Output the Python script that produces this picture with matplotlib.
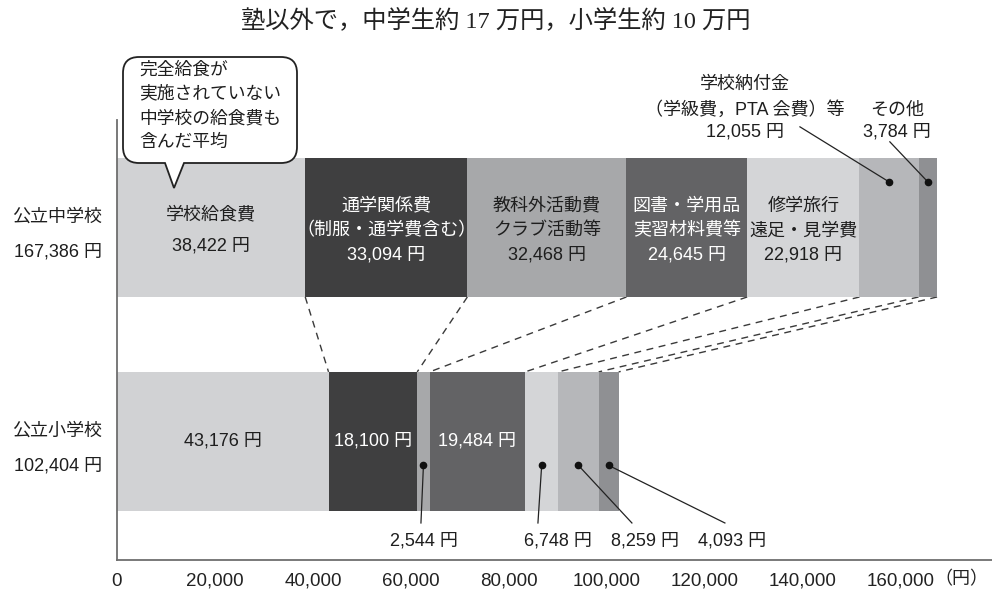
import matplotlib
matplotlib.use('Agg')
import matplotlib.pyplot as plt
from matplotlib.path import Path
from matplotlib.patches import PathPatch
import numpy as np

plt.rcParams['font.family'] = ['Liberation Sans', 'Noto Sans CJK JP']

# 学習費（塾以外）の内訳
schools = ['公立中学校', '公立小学校']
names = [['学校給食費'],
         ['通学関係費', '（制服・通学費含む）'],
         ['教科外活動費', 'クラブ活動等'],
         ['図書・学用品', '実習材料費等'],
         ['修学旅行', '遠足・見学費'],
         ['学校納付金', '（学級費，PTA 会費）等'],
         ['その他']]
middle_values = [38422, 33094, 32468, 24645, 22918, 12055, 3784]
elem_values = [43176, 18100, 2544, 19484, 6748, 8259, 4093]
colors = ['#d1d2d4', '#3f3f40', '#a7a8aa', '#636365',
          '#d4d5d7', '#b6b7ba', '#8f9093']
white_text = [1, 3]

ticks = [0, 20000, 40000, 60000, 80000, 100000, 120000, 140000, 160000]
title = '塾以外で，中学生約 17 万円，小学生約 10 万円'
bubble_lines = ['完全給食が', '実施されていない', '中学校の給食費も', '含んだ平均']

H = 0.65
dark = '#1e1e1e'

fig = plt.figure(figsize=(9.92, 5.92), dpi=100)
ax = fig.add_axes([117 / 992, 32 / 592, 875 / 992, 440 / 592])

rows = [middle_values, elem_values]
lefts = []
for r, vals in enumerate(rows):
    left = np.concatenate([[0], np.cumsum(vals)[:-1]])
    lefts.append(left)
    ax.barh(r, vals, left=left, height=H, color=colors, linewidth=0, zorder=2)

ax.set_xlim(0, 178600)
ax.set_ylim(1.554, -0.502)
ax.set_xticks(ticks, [f'{t:,}' for t in ticks])
ax.set_yticks([])
ax.tick_params(axis='x', length=0, pad=9, labelsize=13.5, labelcolor='#222')
for s in ['top', 'right']:
    ax.spines[s].set_visible(False)
for s in ['left', 'bottom']:
    ax.spines[s].set_color('#6e6e6e')
    ax.spines[s].set_linewidth(1.3)
ax.text(172300, 1.647, '（円）', ha='center', va='center', fontsize=13,
        color='#222', clip_on=False)

# 中学校と小学校の区切りを結ぶ破線
for a, b in zip(np.cumsum(middle_values), np.cumsum(elem_values)):
    ax.plot([a, b], [H / 2, 1 - H / 2], ls=(0, (5, 4)), color='#3a3a3a',
            lw=1.0, zorder=1)

# 行ラベル
for r, vals in enumerate(rows):
    ax.text(-3000, r - 0.047, schools[r], ha='right', va='center',
            fontsize=13, color=dark, clip_on=False)
    ax.text(-3000, r + 0.117, f'{sum(vals):,} 円', ha='right', va='center',
            fontsize=13, color=dark, clip_on=False)

# 中学校：棒の中のラベル
for i in range(5):
    v = middle_values[i]
    x = lefts[0][i] + v / 2
    lines = names[i] + [f'{v:,} 円']
    dy = 0.145 if len(lines) == 2 else 0.1145
    c = 'white' if i in white_text else dark
    for k, s in enumerate(lines):
        y = 0.016 + (k - (len(lines) - 1) / 2) * dy
        ax.text(x, y, s, ha='center', va='center', fontsize=13, color=c,
                zorder=3)

# 中学校：外に出すラベル
out_text = {5: (128200, [-0.666, -0.549, -0.446]),
            6: (159200, [-0.549, -0.446])}
out_start = {5: (139400, -0.470), 6: (157750, -0.400)}
for i in (5, 6):
    v = middle_values[i]
    cx = lefts[0][i] + v / 2
    tx, ys = out_text[i]
    for s, y in zip(names[i] + [f'{v:,} 円'], ys):
        ax.text(tx, y, s, ha='center', va='center', fontsize=13, color=dark,
                clip_on=False)
    sx, sy = out_start[i]
    ax.plot([sx, cx], [sy, -0.213], color='#222', lw=0.9, zorder=4,
            clip_on=False)
    ax.plot(cx, -0.213, 'o', ms=4.5, color='#111', zorder=5)

# 小学校：棒の中のラベル
for i in (0, 1, 3):
    v = elem_values[i]
    x = lefts[1][i] + v / 2
    c = 'white' if i in white_text else dark
    ax.text(x, 1.0, f'{v:,} 円', ha='center', va='center', fontsize=13,
            color=c, zorder=3)

# 小学校：下に出すラベル
small_end = {2: (62040, 1.381), 4: (85920, 1.381),
             5: (105100, 1.381), 6: (124080, 1.381)}
small_text = {2: 62650, 4: 90000, 5: 107860, 6: 125510}
for i in (2, 4, 5, 6):
    v = elem_values[i]
    cx = lefts[1][i] + v / 2
    ex, ey = small_end[i]
    ax.plot([cx, ex], [1.112, ey], color='#222', lw=0.9, zorder=4,
            clip_on=False)
    ax.plot(cx, 1.112, 'o', ms=4.5, color='#111', zorder=5)
    ax.text(small_text[i], 1.465, f'{v:,} 円', ha='center', va='center',
            fontsize=13, color=dark, clip_on=False)

# 吹き出し（ピクセル座標のオーバーレイ）
ov = fig.add_axes([0, 0, 1, 1])
ov.set_xlim(0, 992)
ov.set_ylim(592, 0)
ov.axis('off')
ov.patch.set_alpha(0)

x0, y0, x1, y1, rr = 123, 57, 297, 163, 16
verts = [(x0 + rr, y0), (x1 - rr, y0), (x1, y0), (x1, y0 + rr),
         (x1, y1 - rr), (x1, y1), (x1 - rr, y1),
         (184, y1), (174, 188), (165, y1),
         (x0 + rr, y1), (x0, y1), (x0, y1 - rr),
         (x0, y0 + rr), (x0, y0), (x0 + rr, y0), (x0 + rr, y0)]
codes = [Path.MOVETO, Path.LINETO, Path.CURVE3, Path.CURVE3,
         Path.LINETO, Path.CURVE3, Path.CURVE3,
         Path.LINETO, Path.LINETO, Path.LINETO,
         Path.LINETO, Path.CURVE3, Path.CURVE3,
         Path.LINETO, Path.CURVE3, Path.CURVE3, Path.CLOSEPOLY]
ov.add_patch(PathPatch(Path(verts, codes), facecolor='white',
                       edgecolor='#222', lw=1.3))
for k, s in enumerate(bubble_lines):
    ov.text(139, 70 + k * 24.3, s, ha='left', va='center', fontsize=12.8,
            color=dark)

fig.text(0.5, 1 - 20 / 592, title, ha='center', va='center', fontsize=17.5,
         color='#222', family=['Liberation Serif', 'Noto Sans CJK JP'])

fig.savefig('out.png', dpi=100)
